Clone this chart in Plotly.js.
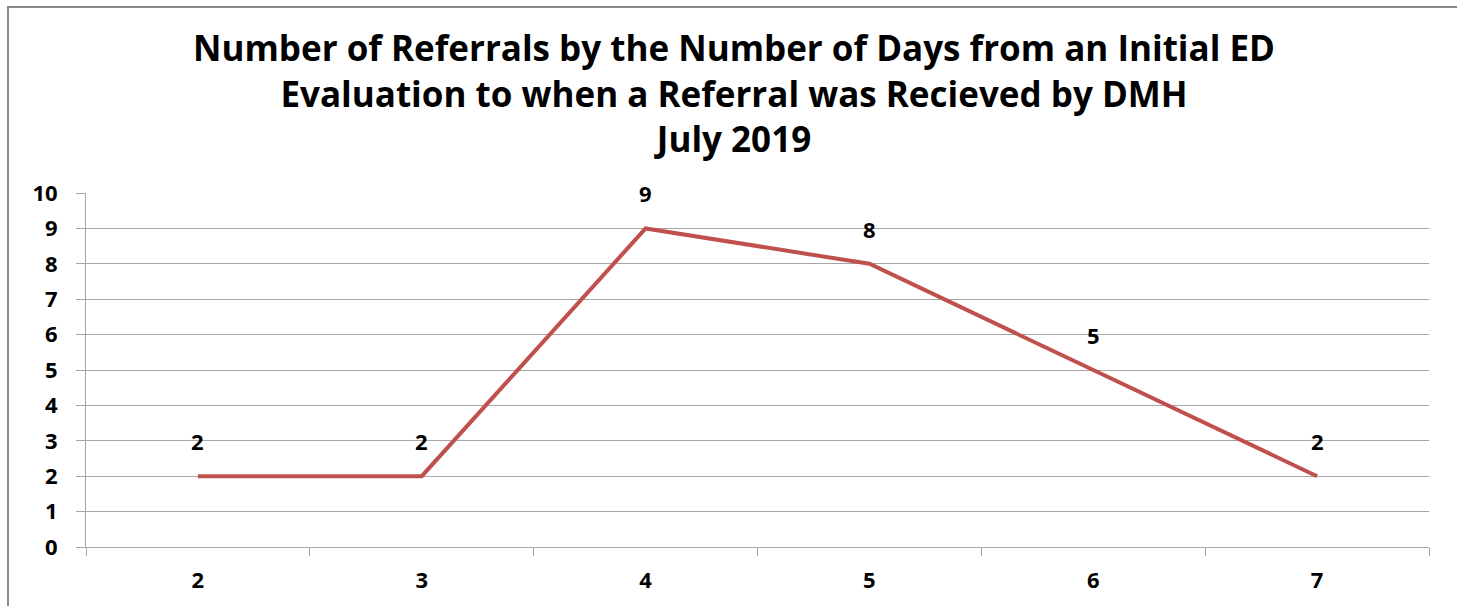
<!DOCTYPE html>
<html>
<head>
<meta charset="utf-8">
<script src="https://cdn.plot.ly/plotly-3.0.1.min.js"></script>
<style>
  html, body { margin: 0; padding: 0; background: #fff; }
  #wrap { position: relative; width: 1457px; height: 606px; overflow: hidden; }
  #chart { position: absolute; left: 0; top: 0; width: 1457px; height: 606px; }
  #frame { position: absolute; left: 7px; top: 6px; width: 1460px; height: 610px;
           border-left: 2px solid #8a8a8a; border-top: 2px solid #8a8a8a; pointer-events: none; }
</style>
</head>
<body>
<div id="wrap">
  <div id="chart"></div>
  <div id="frame"></div>
</div>
<script>
const days = ["2", "3", "4", "5", "6", "7"];
const referrals = [2, 2, 9, 8, 5, 2];
const yTicks = [0, 1, 2, 3, 4, 5, 6, 7, 8, 9, 10];
const titleLines = [
  "Number of Referrals by the Number of Days from an Initial ED",
  "Evaluation to when a Referral was Recieved by DMH",
  "July 2019"
];

const FONT = "Open Sans, DejaVu Sans, sans-serif";

const trace = {
  x: days,
  y: referrals,
  type: "scatter",
  mode: "lines",
  line: { color: "#C0504D", width: 4 },
  hoverinfo: "x+y",
  showlegend: false
};

// category axis: annotation x given as category index
const annotations = days.map((d, i) => ({
  x: i, y: referrals[i], xref: "x", yref: "y",
  text: String(referrals[i]),
  showarrow: false,
  yshift: 35,
  font: { family: FONT, size: 22, color: "#000", weight: "bold" }
}));

const layout = {
  width: 1457,
  height: 606,
  paper_bgcolor: "#fff",
  plot_bgcolor: "#fff",
  margin: { l: 86, r: 28, t: 193, b: 59 },
  title: {
    text: titleLines.map(s => "<b>" + s + "</b>").join("<br>"),
    font: { family: FONT, size: 35, color: "#000" },
    x: 734 / 1457, xanchor: "center", xref: "container",
    y: 1 - 61 / 606, yanchor: "middle", yref: "container"
  },
  xaxis: {
    type: "category",
    categoryorder: "array",
    categoryarray: days,
    range: [-0.5, days.length - 0.5],
    tickson: "boundaries",
    ticks: "outside",
    ticklen: 8,
    tickcolor: "#a6a6a6",
    tickwidth: 1,
    showgrid: false,
    showline: true,
    linecolor: "#a6a6a6",
    linewidth: 1,
    ticklabelstandoff: 14,
    tickfont: { family: FONT, size: 22, color: "#000", weight: "bold" },
    zeroline: false,
    fixedrange: true
  },
  yaxis: {
    range: [0, 10],
    tickvals: yTicks,
    ticktext: yTicks.map(String),
    ticks: "outside",
    ticklen: 9,
    tickcolor: "#a6a6a6",
    tickwidth: 1,
    showgrid: true,
    gridcolor: "#a6a6a6",
    gridwidth: 1,
    showline: true,
    linecolor: "#a6a6a6",
    linewidth: 1,
    zeroline: false,
    ticklabelstandoff: 14,
    tickfont: { family: FONT, size: 22, color: "#000", weight: "bold" },
    fixedrange: true
  },
  annotations: annotations
};

Plotly.newPlot("chart", [trace], layout, { displayModeBar: false, staticPlot: true });
</script>
</body>
</html>
